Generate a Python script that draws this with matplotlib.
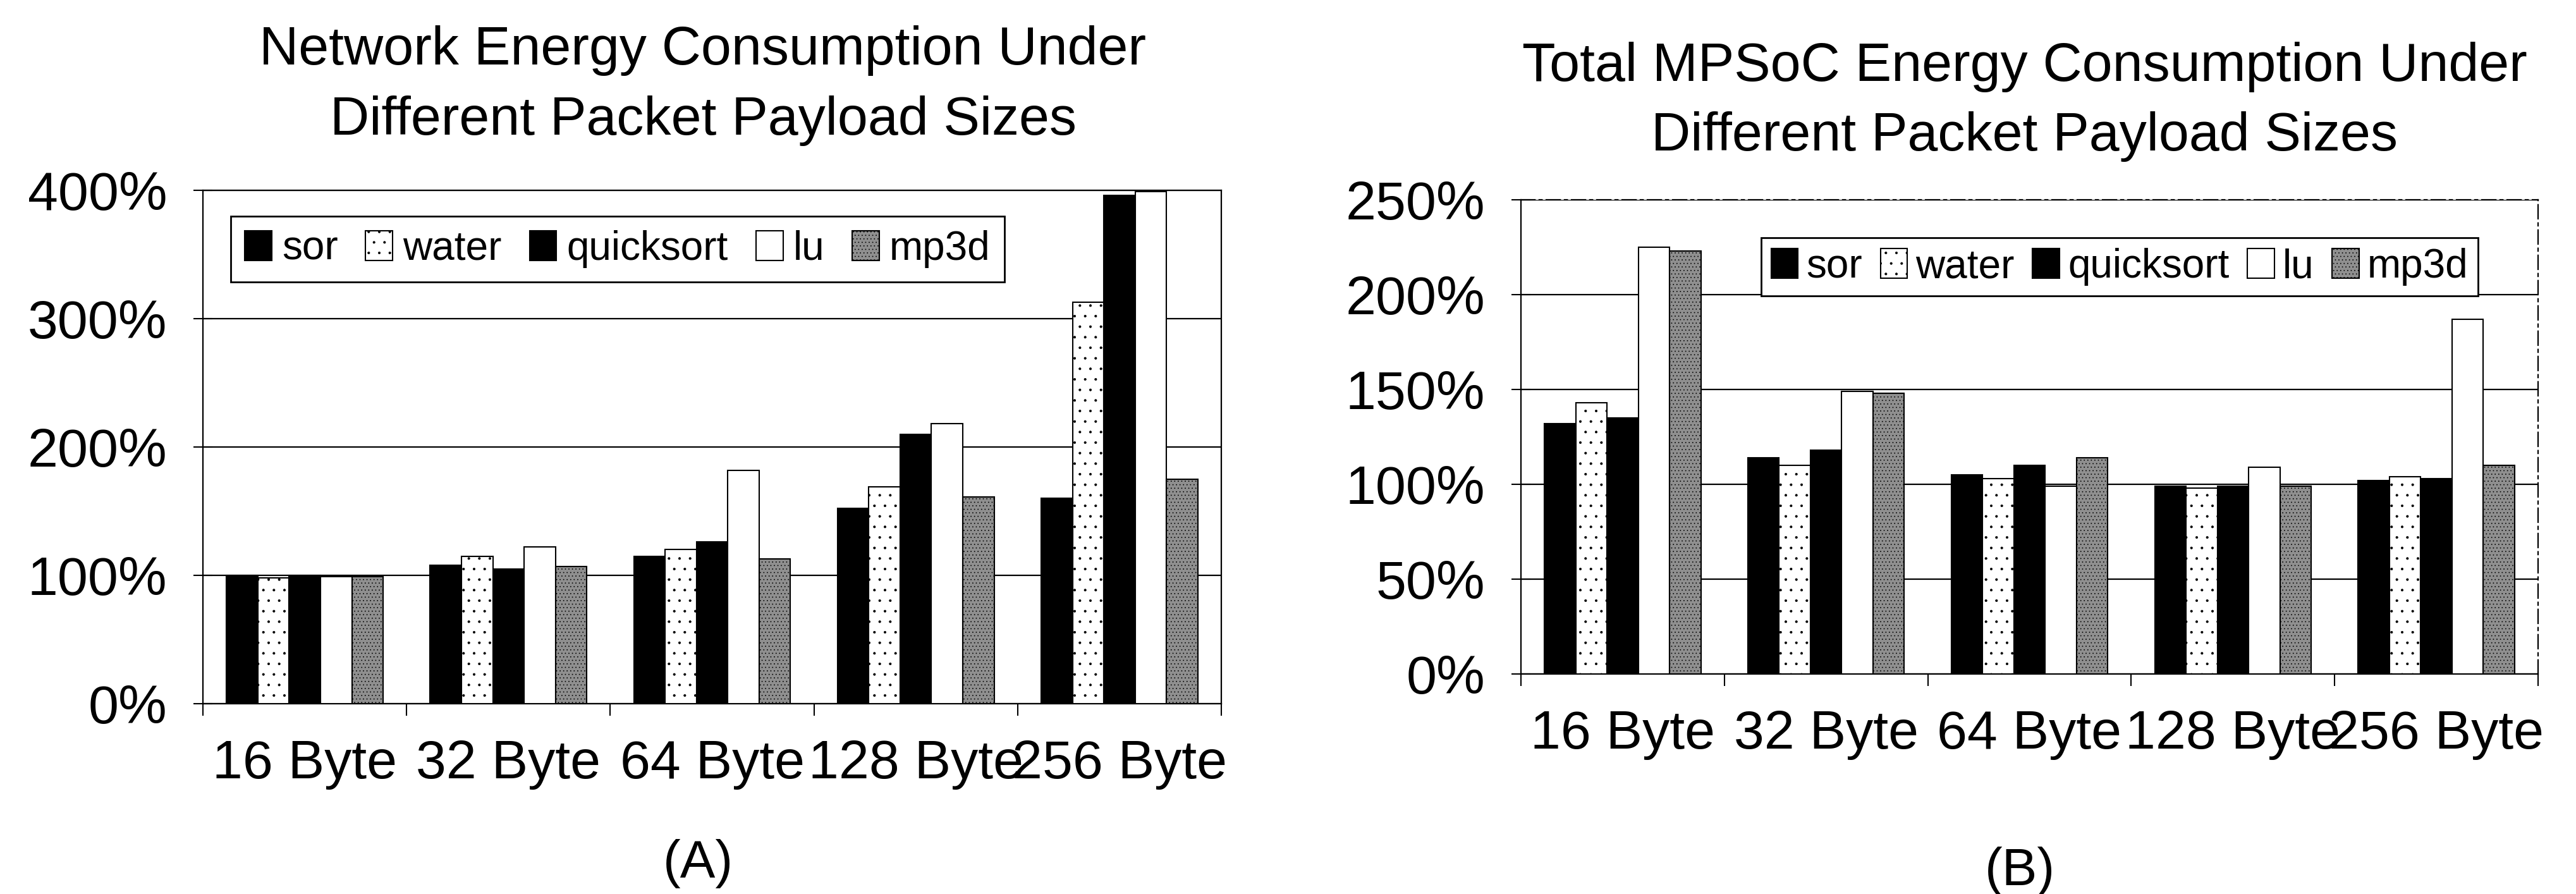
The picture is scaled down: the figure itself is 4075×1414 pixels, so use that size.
import matplotlib
matplotlib.use("Agg")
import matplotlib.pyplot as plt
import numpy as np

# --- DATA ---
categories = ["16 Byte", "32 Byte", "64 Byte", "128 Byte", "256 Byte"]
benchmarks = ["sor", "water", "quicksort", "lu", "mp3d"]

# (A) network energy, % of baseline
net_sor = [100, 108, 115, 152, 160]
net_water = [98, 115, 120, 169, 313]
net_quicksort = [100, 105, 126, 210, 396]
net_lu = [99, 122, 182, 218, 399]
net_mp3d = [99, 107, 113, 161, 175]

# (B) total MPSoC energy, % of baseline
tot_sor = [132, 114, 105, 99, 102]
tot_water = [143, 110, 103, 98, 104]
tot_quicksort = [135, 118, 110, 99, 103]
tot_lu = [225, 149, 99, 109, 187]
tot_mp3d = [223, 148, 114, 99, 110]

net_ticks = [0, 100, 200, 300, 400]
tot_ticks = [0, 50, 100, 150, 200, 250]

plt.rcParams["font.family"] = ["Liberation Sans", "DejaVu Sans"]
plt.rcParams["hatch.linewidth"] = 0.5

# black / sparse-stipple white / black / white / grey stipple, like the print
styles = [
    dict(facecolor="black"),
    dict(facecolor="white", hatch="."),
    dict(facecolor="black"),
    dict(facecolor="white"),
    dict(facecolor="#8f8f8f", hatch="..."),
]


def draw_panel(ax, series, yticks, legend_anchor, colspacing, htpad, borderpad):
    x = np.arange(len(categories))
    w = 1 / 6.5  # Excel default gap width 150%
    for j, (vals, name) in enumerate(zip(series, benchmarks)):
        ax.bar(x + (j - 2) * w, vals, w, label=name, edgecolor="black",
               linewidth=1.5, zorder=3, **styles[j])

    ax.set_xlim(-0.5, len(categories) - 0.5)
    ax.set_ylim(0, yticks[-1])
    ax.set_yticks(yticks)
    ax.set_yticklabels([f"{v}%" for v in yticks])
    ax.set_xticks(x)
    ax.set_xticklabels(categories)
    ax.set_xticks(np.arange(len(categories) + 1) - 0.5, minor=True)

    ax.yaxis.grid(True, color="black", linewidth=1.6)
    ax.set_axisbelow(True)

    ax.tick_params(axis="y", direction="inout", length=22, width=1.5,
                   pad=30, labelsize=62)
    ax.tick_params(axis="x", which="major", length=0, pad=40, labelsize=62)
    ax.tick_params(axis="x", which="minor", direction="out", length=14,
                   width=1.5)
    for s in ax.spines.values():
        s.set_linewidth(1.6)

    leg = ax.legend(loc="upper left", bbox_to_anchor=legend_anchor, ncol=5,
                    fontsize=46, frameon=True, fancybox=False,
                    edgecolor="black", borderaxespad=0, handlelength=0.67,
                    handleheight=0.75, handletextpad=htpad,
                    columnspacing=colspacing, borderpad=borderpad)
    leg.get_frame().set_linewidth(2)
    leg.get_frame().set_alpha(1)
    return ax


fig = plt.figure(figsize=(40.75, 14.14), dpi=100)

# --- (A) network energy ---
ax1 = fig.add_axes([0.0788, 0.2129, 0.4741 - 0.0788, 0.7871 - 0.2129])
draw_panel(ax1, [net_sor, net_water, net_quicksort, net_lu, net_mp3d],
           net_ticks, (0.027, 0.95), 0.69, 0.25, 0.35)

# --- (B) total MPSoC energy ---
ax2 = fig.add_axes([0.5904, 0.2461, 0.9853 - 0.5904, 0.7765 - 0.2461])
draw_panel(ax2, [tot_sor, tot_water, tot_quicksort, tot_lu, tot_mp3d],
           tot_ticks, (0.236, 0.92), 0.45, 0.2, 0.25)
for side in ["top", "right"]:
    ax2.spines[side].set_linestyle((0, (10, 3, 2, 3)))

# titles, two lines each
fig.text(1112 / 4075, 1 - 102 / 1414, "Network Energy Consumption Under",
         ha="center", va="baseline", fontsize=62)
fig.text(1112 / 4075, 1 - 213 / 1414, "Different Packet Payload Sizes",
         ha="center", va="baseline", fontsize=62)
fig.text(3203 / 4075, 1 - 128 / 1414, "Total MPSoC Energy Consumption Under",
         ha="center", va="baseline", fontsize=62)
fig.text(3203 / 4075, 1 - 238 / 1414, "Different Packet Payload Sizes",
         ha="center", va="baseline", fontsize=62)

# sub-figure labels
fig.text(1104 / 4075, 1 - 1366 / 1414, "(A)", ha="center", va="center",
         fontsize=60)
fig.text(3195 / 4075, 1 - 1378 / 1414, "(B)", ha="center", va="center",
         fontsize=60)

fig.savefig("out.png", dpi=100)
